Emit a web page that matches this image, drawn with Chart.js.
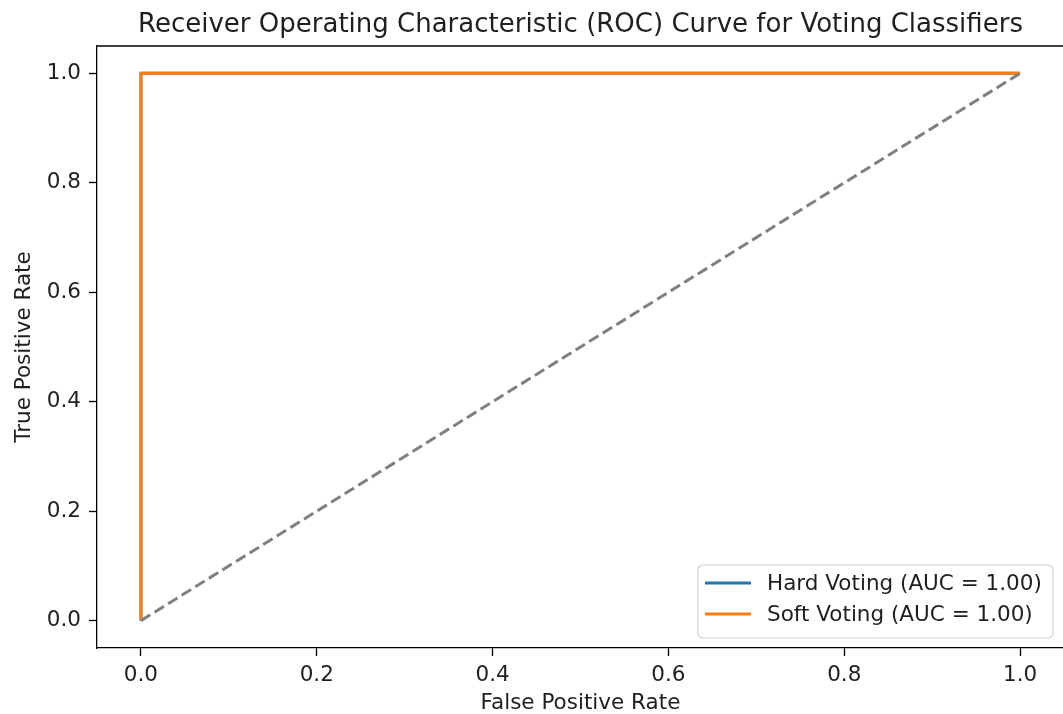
<!DOCTYPE html>
<html>
<head>
<meta charset="utf-8">
<script src="https://cdn.jsdelivr.net/npm/chart.js@4.4.1/dist/chart.umd.min.js"></script>
<style>
  html, body { margin: 0; padding: 0; background: #fff; overflow: hidden; }
  #wrap { width: 1070px; height: 714px; }
</style>
</head>
<body>
<div id="wrap"><canvas id="roc" width="1070" height="714"></canvas></div>
<script>
// ROC points (false positive rate / true positive rate) for each voting scheme
const hardFpr = [0, 0, 1];
const hardTpr = [0, 1, 1];
const softFpr = [0, 0, 1];
const softTpr = [0, 1, 1];
// Chance diagonal
const chanceFpr = [0, 1];
const chanceTpr = [0, 1];
// Area under each curve
const aucValues = [1.00, 1.00];
const seriesNames = ['Hard Voting', 'Soft Voting'];
// Axis ticks
const xTickValues = [0.0, 0.2, 0.4, 0.6, 0.8, 1.0];
const yTickValues = [0.0, 0.2, 0.4, 0.6, 0.8, 1.0];

const toPoints = (xs, ys) => xs.map((x, i) => ({ x: x, y: ys[i] }));
const FONT = "'DejaVu Sans', sans-serif";
const TEXT = '#1f1f1f';
const LABEL_SIZE = 21.5;

// Draws the top and right spines so the plot area is fully boxed
const frame = {
  id: 'frame',
  afterDatasetsDraw(chart) {
    const { ctx, chartArea: a } = chart;
    ctx.save();
    ctx.strokeStyle = '#000';
    ctx.lineWidth = 1.3;
    ctx.beginPath();
    ctx.moveTo(a.left, a.top);
    ctx.lineTo(a.right, a.top);
    ctx.lineTo(a.right, a.bottom);
    ctx.stroke();
    ctx.restore();
  }
};

// Legend box in the lower right corner of the plot area
const cornerLegend = {
  id: 'cornerLegend',
  afterDraw(chart) {
    const { ctx } = chart;
    const items = chart.data.datasets.filter(d => d.inLegend);
    const x0 = 698, y0 = 565, w = 355, h = 73, r = 5;
    ctx.save();
    ctx.fillStyle = 'rgba(255,255,255,0.8)';
    ctx.strokeStyle = '#d0d0d0';
    ctx.lineWidth = 1.2;
    ctx.beginPath();
    ctx.roundRect(x0, y0, w, h, r);
    ctx.fill();
    ctx.stroke();
    ctx.font = LABEL_SIZE + 'px ' + FONT;
    ctx.textBaseline = 'middle';
    ctx.fillStyle = TEXT;
    items.forEach((d, i) => {
      const y = 583 + i * 31;
      ctx.strokeStyle = d.borderColor;
      ctx.lineWidth = 3;
      ctx.beginPath();
      ctx.moveTo(705, y);
      ctx.lineTo(751, y);
      ctx.stroke();
      ctx.fillText(d.label, 767, y + 1);
    });
    ctx.restore();
  }
};

const setTicks = values => scale => { scale.ticks = values.map(v => ({ value: v })); };

new Chart(document.getElementById('roc'), {
  type: 'scatter',
  data: {
    datasets: [
      {
        label: `${seriesNames[0]} (AUC = ${aucValues[0].toFixed(2)})`,
        data: toPoints(hardFpr, hardTpr),
        borderColor: '#1f77b4',
        borderWidth: 3,
        showLine: true, pointRadius: 0, tension: 0,
        order: 2, inLegend: true
      },
      {
        label: `${seriesNames[1]} (AUC = ${aucValues[1].toFixed(2)})`,
        data: toPoints(softFpr, softTpr),
        borderColor: '#ff7f0e',
        borderWidth: 3,
        showLine: true, pointRadius: 0, tension: 0,
        order: 1, inLegend: true
      },
      {
        label: 'Chance',
        data: toPoints(chanceFpr, chanceTpr),
        borderColor: '#808080',
        borderWidth: 3,
        borderDash: [11, 5],
        borderCapStyle: 'butt',
        showLine: true, pointRadius: 0, tension: 0,
        order: 0, inLegend: false
      }
    ]
  },
  options: {
    responsive: false,
    animation: false,
    events: [],
    layout: { padding: { top: 0, right: 6, bottom: 0, left: 0 } },
    plugins: {
      legend: { display: false },
      tooltip: { enabled: false },
      title: {
        display: true,
        fullSize: false,
        text: 'Receiver Operating Characteristic (ROC) Curve for Voting Classifiers',
        color: TEXT,
        font: { family: FONT, size: 26, weight: 'normal', lineHeight: 1.2 },
        padding: { top: 9.5, bottom: 5.3 }
      }
    },
    scales: {
      x: {
        type: 'linear',
        min: -0.05, max: 1.05,
        afterBuildTicks: setTicks(xTickValues),
        afterFit: s => { s.height = 66; },
        grid: { drawOnChartArea: false, drawTicks: true, tickLength: 8, tickWidth: 1.3, tickColor: '#000' },
        border: { display: true, color: '#000', width: 1.3 },
        ticks: {
          color: TEXT, padding: 7, maxRotation: 0, autoSkip: false,
          font: { family: FONT, size: LABEL_SIZE },
          callback: v => Number(v).toFixed(1)
        },
        title: {
          display: true, text: 'False Positive Rate', color: TEXT,
          font: { family: FONT, size: LABEL_SIZE, lineHeight: 1 },
          padding: { top: 0, bottom: -0.5 }
        }
      },
      y: {
        type: 'linear',
        min: -0.05, max: 1.05,
        afterBuildTicks: setTicks(yTickValues),
        afterFit: s => { s.width = 97; },
        grid: { drawOnChartArea: false, drawTicks: true, tickLength: 8, tickWidth: 1.3, tickColor: '#000' },
        border: { display: true, color: '#000', width: 1.3 },
        ticks: {
          color: TEXT, padding: 8, autoSkip: false,
          font: { family: FONT, size: LABEL_SIZE },
          callback: v => Number(v).toFixed(1)
        },
        title: {
          display: true, text: 'True Positive Rate', color: TEXT,
          font: { family: FONT, size: LABEL_SIZE, lineHeight: 1 },
          padding: { top: 14, bottom: 0 }
        }
      }
    }
  },
  plugins: [frame, cornerLegend]
});
</script>
</body>
</html>
